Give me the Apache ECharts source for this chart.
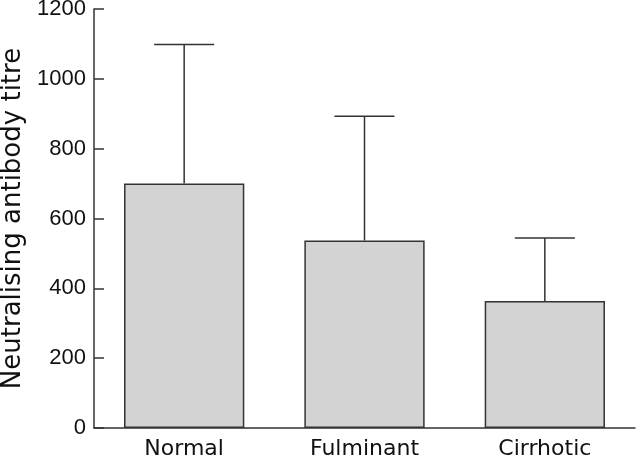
<!DOCTYPE html>
<html><head><meta charset="utf-8">
<script src="https://cdn.jsdelivr.net/npm/echarts@6/dist/echarts.min.js"></script>
<style>html,body{margin:0;padding:0;background:#fff}#c{width:640px;height:459px}</style>
</head><body><div id="c"></div>
<script>
var categories = ['Normal', 'Fulminant', 'Cirrhotic'];
var means = [700, 537, 364];
var upperErrors = [1098, 893, 544];
var yTicks = [0, 200, 400, 600, 800, 1000, 1200];

var chart = echarts.init(document.getElementById('c'), null, {renderer: 'canvas'});
var numFont = 'Liberation Sans, Arial, Helvetica, sans-serif';
var textFont = 'DejaVu Sans, sans-serif';
var axisColor = '#333333';
chart.setOption({
  animation: false,
  grid: {left: 94, right: 5, top: 9, bottom: 31, containLabel: false, outerBoundsMode: 'none'},
  xAxis: {
    type: 'category', data: categories, boundaryGap: true,
    axisLine: {lineStyle: {color: axisColor, width: 1.5}},
    axisTick: {show: false},
    axisLabel: {color: '#111', fontFamily: textFont, fontSize: 22, margin: 10}
  },
  yAxis: {
    type: 'value', min: 0, max: 1200, interval: 200,
    name: 'Neutralising antibody titre', nameLocation: 'middle', nameGap: 66,
    nameTextStyle: {color: '#111', fontFamily: textFont, fontSize: 26},
    axisLine: {show: true, lineStyle: {color: axisColor, width: 1.5}},
    axisTick: {show: true, inside: true, length: 10, lineStyle: {color: axisColor, width: 1.5}},
    splitLine: {show: false},
    axisLabel: {color: '#111', fontFamily: numFont, fontSize: 22, margin: 8,
      formatter: function (v) { return yTicks.indexOf(v) >= 0 ? String(v) : ''; }}
  },
  series: [{
    type: 'bar', data: means, barWidth: '66.7%',
    itemStyle: {color: '#d3d3d3', borderColor: '#333333', borderWidth: 1.5}
  }, {
    type: 'custom',
    data: categories.map(function (c, i) { return [i, means[i], upperErrors[i]]; }),
    renderItem: function (params, api) {
      var base = api.coord([api.value(0), api.value(1)]);
      var top = api.coord([api.value(0), api.value(2)]);
      var bw = api.size([1, 0])[0] * 0.333;
      var st = {stroke: '#333333', lineWidth: 1.5};
      return {type: 'group', children: [
        {type: 'line', shape: {x1: base[0], y1: base[1], x2: top[0], y2: top[1]}, style: st},
        {type: 'line', shape: {x1: top[0] - bw / 2, y1: top[1], x2: top[0] + bw / 2, y2: top[1]}, style: st}
      ]};
    },
    z: 3
  }]
});
</script></body></html>
